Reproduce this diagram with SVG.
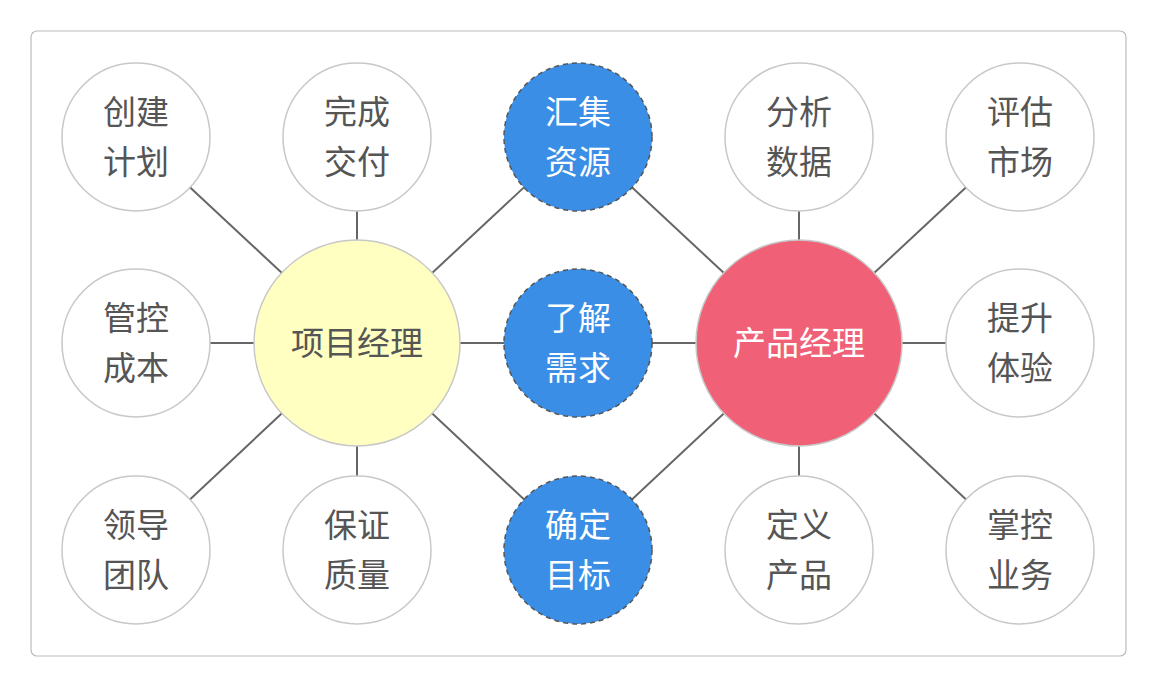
<svg xmlns="http://www.w3.org/2000/svg" width="1157" height="687" viewBox="0 0 1157 687">
<style>
text{font-family:"Liberation Sans","Noto Sans CJK SC",sans-serif;font-size:33px;text-anchor:middle;dominant-baseline:central;fill:#555}
.s{fill:#fff;stroke:#c8c8c8;stroke-width:1.5}
.b{fill:#3a8ee6;stroke:#555;stroke-width:1.5;stroke-dasharray:5 4}
.w{fill:#fff}
#links line{stroke:#666;stroke-width:2}
</style>
<rect x="31" y="31" width="1095" height="625" rx="6" fill="#fff" stroke="#bbb" stroke-width="1.2"/>
<g id="links">
<line x1="357" y1="343" x2="136" y2="137"/><line x1="357" y1="343" x2="357" y2="137"/><line x1="357" y1="343" x2="578" y2="137"/>
<line x1="357" y1="343" x2="136" y2="343"/><line x1="357" y1="343" x2="578" y2="343"/>
<line x1="357" y1="343" x2="136" y2="550"/><line x1="357" y1="343" x2="357" y2="550"/><line x1="357" y1="343" x2="578" y2="550"/>
<line x1="799" y1="343" x2="578" y2="137"/><line x1="799" y1="343" x2="799" y2="137"/><line x1="799" y1="343" x2="1020" y2="137"/>
<line x1="799" y1="343" x2="578" y2="343"/><line x1="799" y1="343" x2="1020" y2="343"/>
<line x1="799" y1="343" x2="578" y2="550"/><line x1="799" y1="343" x2="799" y2="550"/><line x1="799" y1="343" x2="1020" y2="550"/>
</g>
<g id="n1"><circle class="s" cx="136" cy="137" r="74"/><text x="136" y="112">创建</text><text x="136" y="162">计划</text></g>
<g id="n2"><circle class="s" cx="357" cy="137" r="74"/><text x="357" y="112">完成</text><text x="357" y="162">交付</text></g>
<g id="n3"><circle class="b" cx="578" cy="137" r="74"/><text class="w" x="578" y="112">汇集</text><text class="w" x="578" y="162">资源</text></g>
<g id="n4"><circle class="s" cx="799" cy="137" r="74"/><text x="799" y="112">分析</text><text x="799" y="162">数据</text></g>
<g id="n5"><circle class="s" cx="1020" cy="137" r="74"/><text x="1020" y="112">评估</text><text x="1020" y="162">市场</text></g>
<g id="n6"><circle class="s" cx="136" cy="343" r="74"/><text x="136" y="318">管控</text><text x="136" y="368">成本</text></g>
<g id="pm"><circle cx="357" cy="343" r="103" fill="#ffffc2" stroke="#c8c8c8" stroke-width="1.5"/><text x="357" y="343">项目经理</text></g>
<g id="n7"><circle class="b" cx="578" cy="343" r="74"/><text class="w" x="578" y="318">了解</text><text class="w" x="578" y="368">需求</text></g>
<g id="prod"><circle cx="799" cy="343" r="103" fill="#f06077" stroke="#c8c8c8" stroke-width="1.5"/><text class="w" x="799" y="343">产品经理</text></g>
<g id="n8"><circle class="s" cx="1020" cy="343" r="74"/><text x="1020" y="318">提升</text><text x="1020" y="368">体验</text></g>
<g id="n9"><circle class="s" cx="136" cy="550" r="74"/><text x="136" y="525">领导</text><text x="136" y="575">团队</text></g>
<g id="n10"><circle class="s" cx="357" cy="550" r="74"/><text x="357" y="525">保证</text><text x="357" y="575">质量</text></g>
<g id="n11"><circle class="b" cx="578" cy="550" r="74"/><text class="w" x="578" y="525">确定</text><text class="w" x="578" y="575">目标</text></g>
<g id="n12"><circle class="s" cx="799" cy="550" r="74"/><text x="799" y="525">定义</text><text x="799" y="575">产品</text></g>
<g id="n13"><circle class="s" cx="1020" cy="550" r="74"/><text x="1020" y="525">掌控</text><text x="1020" y="575">业务</text></g>
</svg>
